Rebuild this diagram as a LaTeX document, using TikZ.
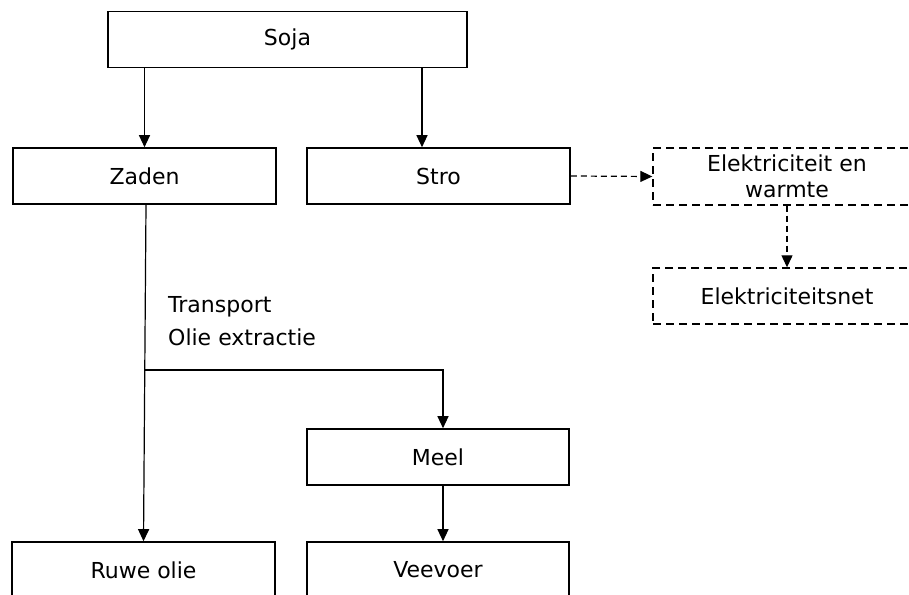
\documentclass[tikz,border=0pt]{standalone}
\usepackage{fontspec}
\setmainfont{DejaVu Sans}
\usetikzlibrary{arrows.meta}
\begin{document}
\begin{tikzpicture}[x=1pt,y=-1pt,
  box/.style={draw, line width=1.6pt, minimum height=56pt, inner sep=0pt, font=\fontsize{22}{26}\selectfont},
  dbox/.style={box, line width=1.4pt, dash pattern=on 8pt off 5pt, align=center},
  arr/.style={line width=1.2pt, -{Triangle[width=11pt,length=12pt]}},
  darr/.style={arr, dash pattern=on 6pt off 4pt},
  lbl/.style={anchor=base west, inner sep=0pt, font=\fontsize{22}{26}\selectfont}]
\useasboundingbox (0,0) rectangle (909,594);
\clip (0,0) rectangle (909,594);
\node[box, minimum width=359pt] (soja) at (287.5,39.5) {Soja};
\node[box, minimum width=263pt] (zaden) at (144.5,176) {Zaden};
\node[box, minimum width=263pt] (stro) at (438.5,176) {Stro};
\node[dbox, minimum width=268pt, minimum height=57pt] (elek) at (787,176.5) {Elektriciteit en\\warmte};
\node[dbox, minimum width=268pt] (net) at (787,296) {Elektriciteitsnet};
\node[box, minimum width=262pt] (meel) at (438,457) {Meel};
\node[box, minimum width=263pt] (ruwe) at (143.5,570) {Ruwe olie};
\node[box, minimum width=262pt] (veevoer) at (438,570) {Veevoer};
\node[lbl] (transport) at (168,312) {Transport};
\node[lbl] (olie) at (168,345) {Olie extractie};
\coordinate (br) at (145,370);
\draw[arr] (soja.south -| zaden.north) -- (zaden.north);
\draw[arr] ([xshift=-16.5pt]soja.south -| stro.north) -- ([xshift=-16.5pt]stro.north);
\draw[arr] ([xshift=1.5pt]zaden.south) -- (ruwe.north);
\draw[arr] (br) -| ([xshift=5pt]meel.north);
\draw[arr] ([xshift=5pt]meel.south) -- ([xshift=5pt]veevoer.north);
\draw[darr] (stro.east) -- (elek.west);
\draw[darr] (elek.south) -- (net.north);
\end{tikzpicture}
\end{document}
